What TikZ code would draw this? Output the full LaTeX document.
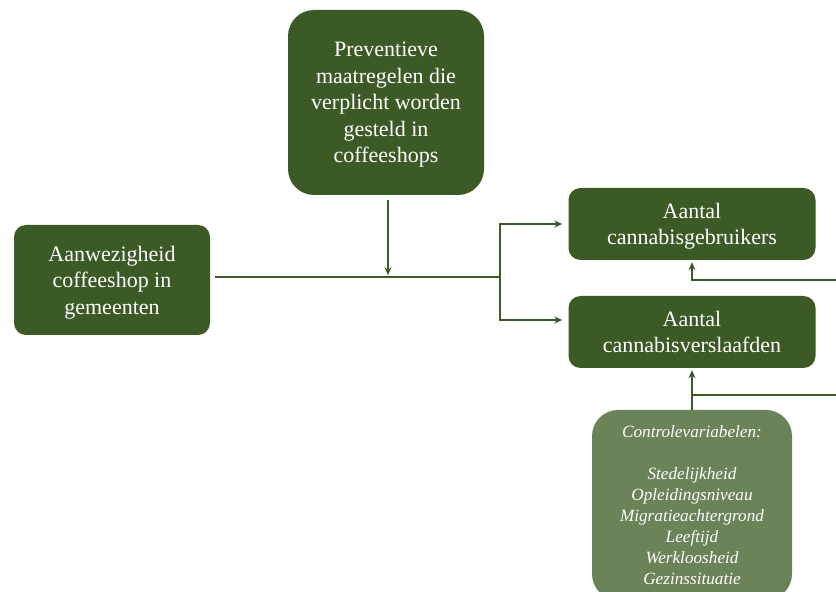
\documentclass[tikz,border=0pt]{standalone}
\usepackage{fontspec}
\setmainfont{Liberation Serif}
\usetikzlibrary{arrows.meta}
\definecolor{darkgreen}{HTML}{3B5A26}
\definecolor{lightgreen}{HTML}{6A8358}
\begin{document}
\begin{tikzpicture}[x=1pt,y=1pt,
    varbox/.style={rectangle,rounded corners=12pt,fill=darkgreen,text=white,align=center,
      font=\fontsize{22}{26.5}\selectfont,inner sep=0pt,text depth=-9pt},
    ctrlbox/.style={rectangle,rounded corners=26pt,fill=lightgreen,text=white,align=center,
      font=\fontsize{17.2}{21}\selectfont\itshape,inner sep=0pt},
    link/.style={draw=darkgreen,line width=1.3pt},
    arrow/.style={link,-{Stealth[length=8pt,width=7pt]}}]

    \useasboundingbox (0,0) rectangle (836,592);
    \clip (0,0) rectangle (836,592);

    % boxes
    \node [varbox,minimum width=196,minimum height=110] (aanwezig) at (112,312)
        {Aanwezigheid\\coffeeshop in\\gemeenten};
    \node [varbox,rounded corners=26pt,minimum width=196,minimum height=185] (preventie) at (386,489.5)
        {Preventieve\\maatregelen die\\verplicht worden\\gesteld in\\coffeeshops};
    \node [varbox,minimum width=247,minimum height=72] (gebruikers) at (692,368)
        {Aantal\\cannabisgebruikers};
    \node [varbox,minimum width=247,minimum height=72] (verslaafden) at (692,260)
        {Aantal\\cannabisverslaafden};
    \node [ctrlbox,minimum width=200,minimum height=190,text depth=0pt] (controle) at (692,87)
        {Controlevariabelen:\\[21pt]Stedelijkheid\\Opleidingsniveau\\Migratieachtergrond\\Leeftijd\\Werkloosheid\\Gezinssituatie};

    % connectors
    \coordinate (split) at (500,315);
    \coordinate (rechtsboven) at (836,312);
    \coordinate (rechtsonder) at (836,197);
    \draw [link] (aanwezig.east) ++(5,3) -- (split);
    \draw [arrow] (preventie.south) ++(2,-5) -- ++(0,-75);
    \draw [arrow] (split) |- ([xshift=-6]gebruikers.west);
    \draw [arrow] (split) |- ([xshift=-6,yshift=12]verslaafden.west);
    \draw [arrow] (rechtsboven) -| ([yshift=-2]gebruikers.south);
    \draw [link] (rechtsonder) -| (controle.north);
    \draw [arrow] (controle.north) -- ([yshift=-2]verslaafden.south);

\end{tikzpicture}
\end{document}
